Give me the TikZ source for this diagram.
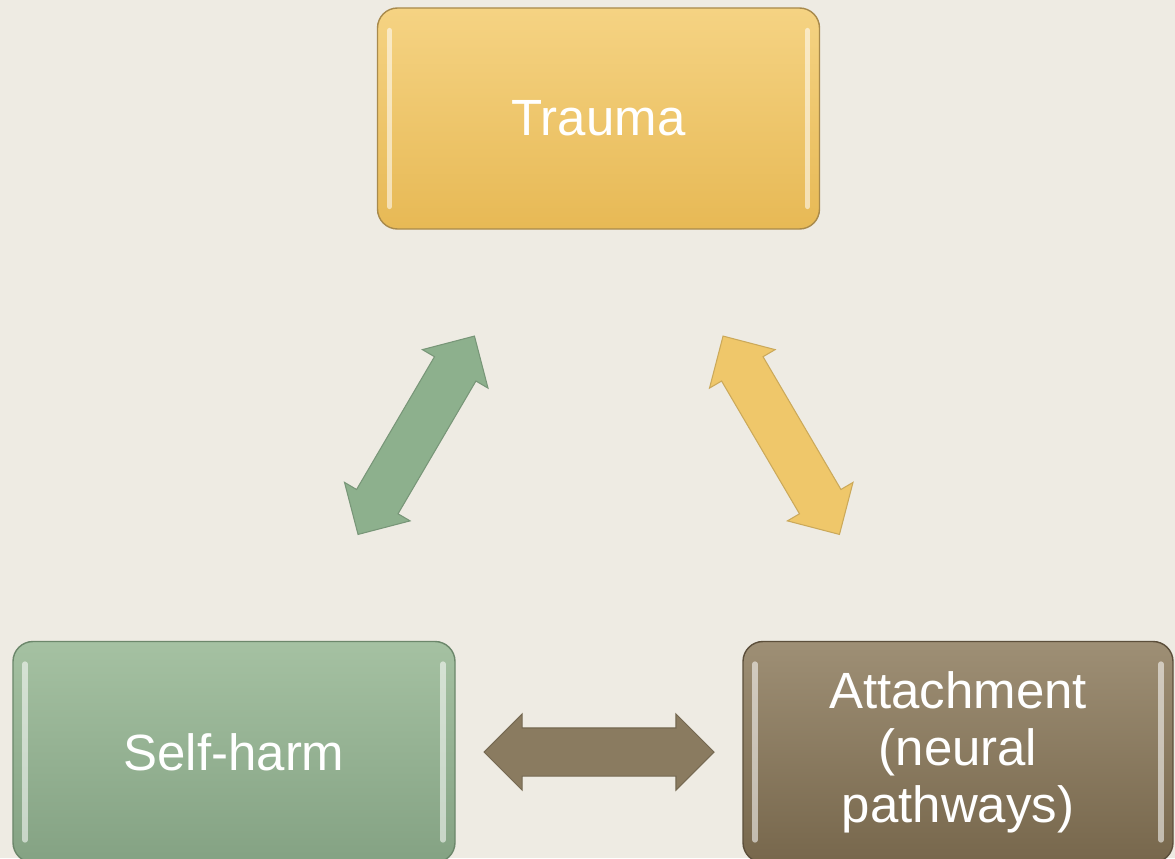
\documentclass[tikz,border=0pt]{standalone}
\usepackage{fontspec}
\setmainfont{Liberation Sans}
\usetikzlibrary{calc}
\usetikzlibrary{shapes.arrows}

\definecolor{bgcream}{HTML}{EEEBE3}
\definecolor{traumatop}{HTML}{F5D383}
\definecolor{traumabot}{HTML}{E7B955}
\definecolor{traumaline}{HTML}{A88A4C}
\definecolor{harmtop}{HTML}{A5C1A2}
\definecolor{harmbot}{HTML}{84A283}
\definecolor{harmline}{HTML}{6C876B}
\definecolor{attachtop}{HTML}{9E8F75}
\definecolor{attachbot}{HTML}{77674C}
\definecolor{attachline}{HTML}{5C4F3B}
\definecolor{greenarrow}{HTML}{8DB08D}
\definecolor{yellowarrow}{HTML}{EFC76A}
\definecolor{brownarrow}{HTML}{8A7B60}

\tikzset{
  box/.style={rectangle, rounded corners=0.4cm, minimum width=8.84cm, minimum height=4.42cm,
    text=white, align=center, font=\fontsize{29}{32.5}\selectfont, line width=0.8pt,
    path picture={
      \draw[white, opacity=0.55, line width=3pt, line cap=round]
        ([xshift=0.24cm,yshift=-0.45cm]path picture bounding box.north west) --
        ([xshift=0.24cm,yshift=0.45cm]path picture bounding box.south west);
      \draw[white, opacity=0.55, line width=3pt, line cap=round]
        ([xshift=-0.24cm,yshift=-0.45cm]path picture bounding box.north east) --
        ([xshift=-0.24cm,yshift=0.45cm]path picture bounding box.south east);
    }},
  twoway/.style={double arrow, double arrow head extend=0.28cm, inner xsep=0pt,
    inner ysep=0.47cm, minimum height=4.6cm, line width=0.6pt},
}

\begin{document}
\begin{tikzpicture}
\useasboundingbox (0,0) rectangle (23.5,17.16);
\fill[bgcream] (0,0) rectangle (23.5,17.16);

% the three boxes
\node[box, top color=traumatop, bottom color=traumabot, draw=traumaline] (trauma) at (11.97,14.79) {Trauma};
\node[box, top color=harmtop, bottom color=harmbot, draw=harmline] (selfharm) at (4.68,2.12) {Self-harm};
\node[box, minimum width=8.6cm, top color=attachtop, bottom color=attachbot, draw=attachline] (attach) at (19.16,2.12) {Attachment\\(neural\\pathways)};

% arrows between them
\node[twoway, fill=greenarrow, draw=greenarrow!85!black, rotate=59.6] (harmtrauma) at ($(selfharm)!0.5!(trauma)$) {};
\node[twoway, fill=yellowarrow, draw=yellowarrow!85!black, rotate=-59.6] (traumaattach) at ($(attach)!0.5!(trauma)+(0.06,0)$) {};
\node[twoway, fill=brownarrow, draw=brownarrow!85!black] (harmattach) at ($(selfharm.east)!0.5!(attach.west)$) {};
\end{tikzpicture}
\end{document}
